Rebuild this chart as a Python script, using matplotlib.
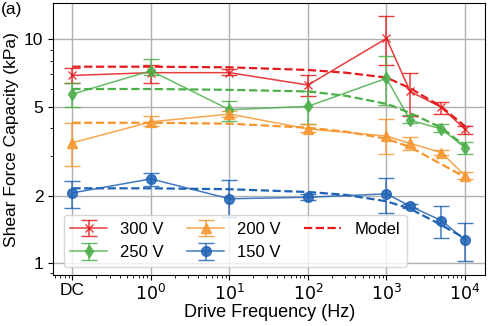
import numpy as np
import matplotlib
matplotlib.use("Agg")
import matplotlib.pyplot as plt

plt.rcParams.update({"font.family": ["Liberation Sans", "DejaVu Sans"], "font.size": 12})

# ── data ─────────────────────────────────────────────────────────────────────
DC = 0.1  # DC plotted one decade below 1 Hz
freq = [DC, 1, 10, 100, 1000, 2000, 5000, 10000]

v300 = [6.9, 7.1, 7.1, 6.25, 10.1, 5.85, 4.97, 3.96]
v300_hi = [7.45, 7.7, 7.38, 6.93, 12.7, 7.1, 5.25, 4.12]
v300_lo = [6.4, 6.4, 6.9, 5.56, 7.67, 4.53, 4.64, 3.79]

v250 = [5.69, 7.24, 4.85, 5.02, 6.7, 4.35, 3.98, 3.28]
v250_hi = [6.41, 8.16, 5.32, 5.85, 8.44, 4.61, 4.19, 3.48]
v250_lo = [4.99, 6.9, 4.31, 4.2, 5.07, 4.21, 3.85, 3.09]

v200 = [3.45, 4.28, 4.64, 3.98, 3.7, 3.43, 3.12, 2.46]
v200_hi = [4.21, 4.56, 4.8, 4.19, 4.42, 3.68, 3.2, 2.56]
v200_lo = [2.71, 4.12, 4.5, 3.85, 3.07, 3.2, 3.05, 2.38]

v150 = [2.06, 2.38, 1.94, 1.97, 2.04, 1.8, 1.55, 1.27]
v150_hi = [2.32, 2.53, 2.36, 2.03, 2.39, 1.84, 1.8, 1.51]
v150_lo = [1.77, 2.22, 1.6, 1.92, 1.68, 1.76, 1.3, 1.02]

model_freq = [DC, 1, 10, 100, 300, 1000, 2000, 5000, 10000]
m300 = [7.55, 7.55, 7.5, 7.3, 7.1, 6.75, 6.05, 5.0, 4.09]
m250 = [6.0, 6.0, 5.95, 5.85, 5.6, 5.15, 4.69, 4.03, 3.34]
m200 = [4.24, 4.24, 4.2, 4.03, 3.87, 3.6, 3.3, 2.77, 2.42]
m150 = [2.16, 2.16, 2.14, 2.08, 2.02, 1.89, 1.75, 1.48, 1.29]

series = [
    ("300 V", v300, v300_lo, v300_hi, m300, "#E41A1C", "x", 6),
    ("250 V", v250, v250_lo, v250_hi, m250, "#4DAF4A", "d", 6),
    ("200 V", v200, v200_lo, v200_hi, m200, "#F7962F", "^", 7),
    ("150 V", v150, v150_lo, v150_hi, m150, "#1F63B5", "o", 7),
]

fig = plt.figure(figsize=(4.88, 3.26), dpi=100)
ax = fig.add_axes([0.109, 0.156, 0.885, 0.834])

handles = []
for label, v, lo, hi, m, c, mk, ms in series:
    v = np.array(v)
    yerr = [v - np.array(lo), np.array(hi) - v]
    h = ax.errorbar(freq, v, yerr=yerr, color=c, marker=mk, ms=ms, lw=1.1,
                    capsize=6, elinewidth=1.1, alpha=0.85, label=label, zorder=3)
    handles.append(h)
    ax.plot(model_freq, m, color=c, ls="--", lw=1.6, zorder=2)

hm, = ax.plot([], [], color="#E41A1C", ls="--", lw=1.6, label="Model")
handles.append(hm)

ax.set_xscale("log")
ax.set_yscale("log")
ax.set_xlim(0.057, 18000)
ax.set_ylim(0.884, 14.5)
ax.set_xticks([DC, 1, 10, 100, 1000, 10000])
ax.set_xticklabels(["DC", "$10^0$", "$10^1$", "$10^2$", "$10^3$", "$10^4$"], fontsize=12.5)
ax.set_yticks([1, 2, 5, 10])
ax.set_yticklabels(["1", "2", "5", "10"], fontsize=12.5)
ax.tick_params(axis="x", which="major", pad=2)
ax.grid(True, which="major", color="#b0b0b0", lw=1)
ax.set_axisbelow(True)
ax.set_xlabel("Drive Frequency (Hz)", fontsize=13, labelpad=1)
ax.set_ylabel("Shear Force Capacity (kPa)", fontsize=12.5, labelpad=4)

ax.legend(handles=handles, labels=[h.get_label() for h in handles], ncol=3,
          loc="lower left", bbox_to_anchor=(0.005, 0.0),
          fontsize=12, handlelength=2.2, columnspacing=1.4, framealpha=0.8)

fig.text(0.002, 0.995, "(a)", ha="left", va="top", fontsize=12.5)

fig.savefig("out.png", dpi=100)
